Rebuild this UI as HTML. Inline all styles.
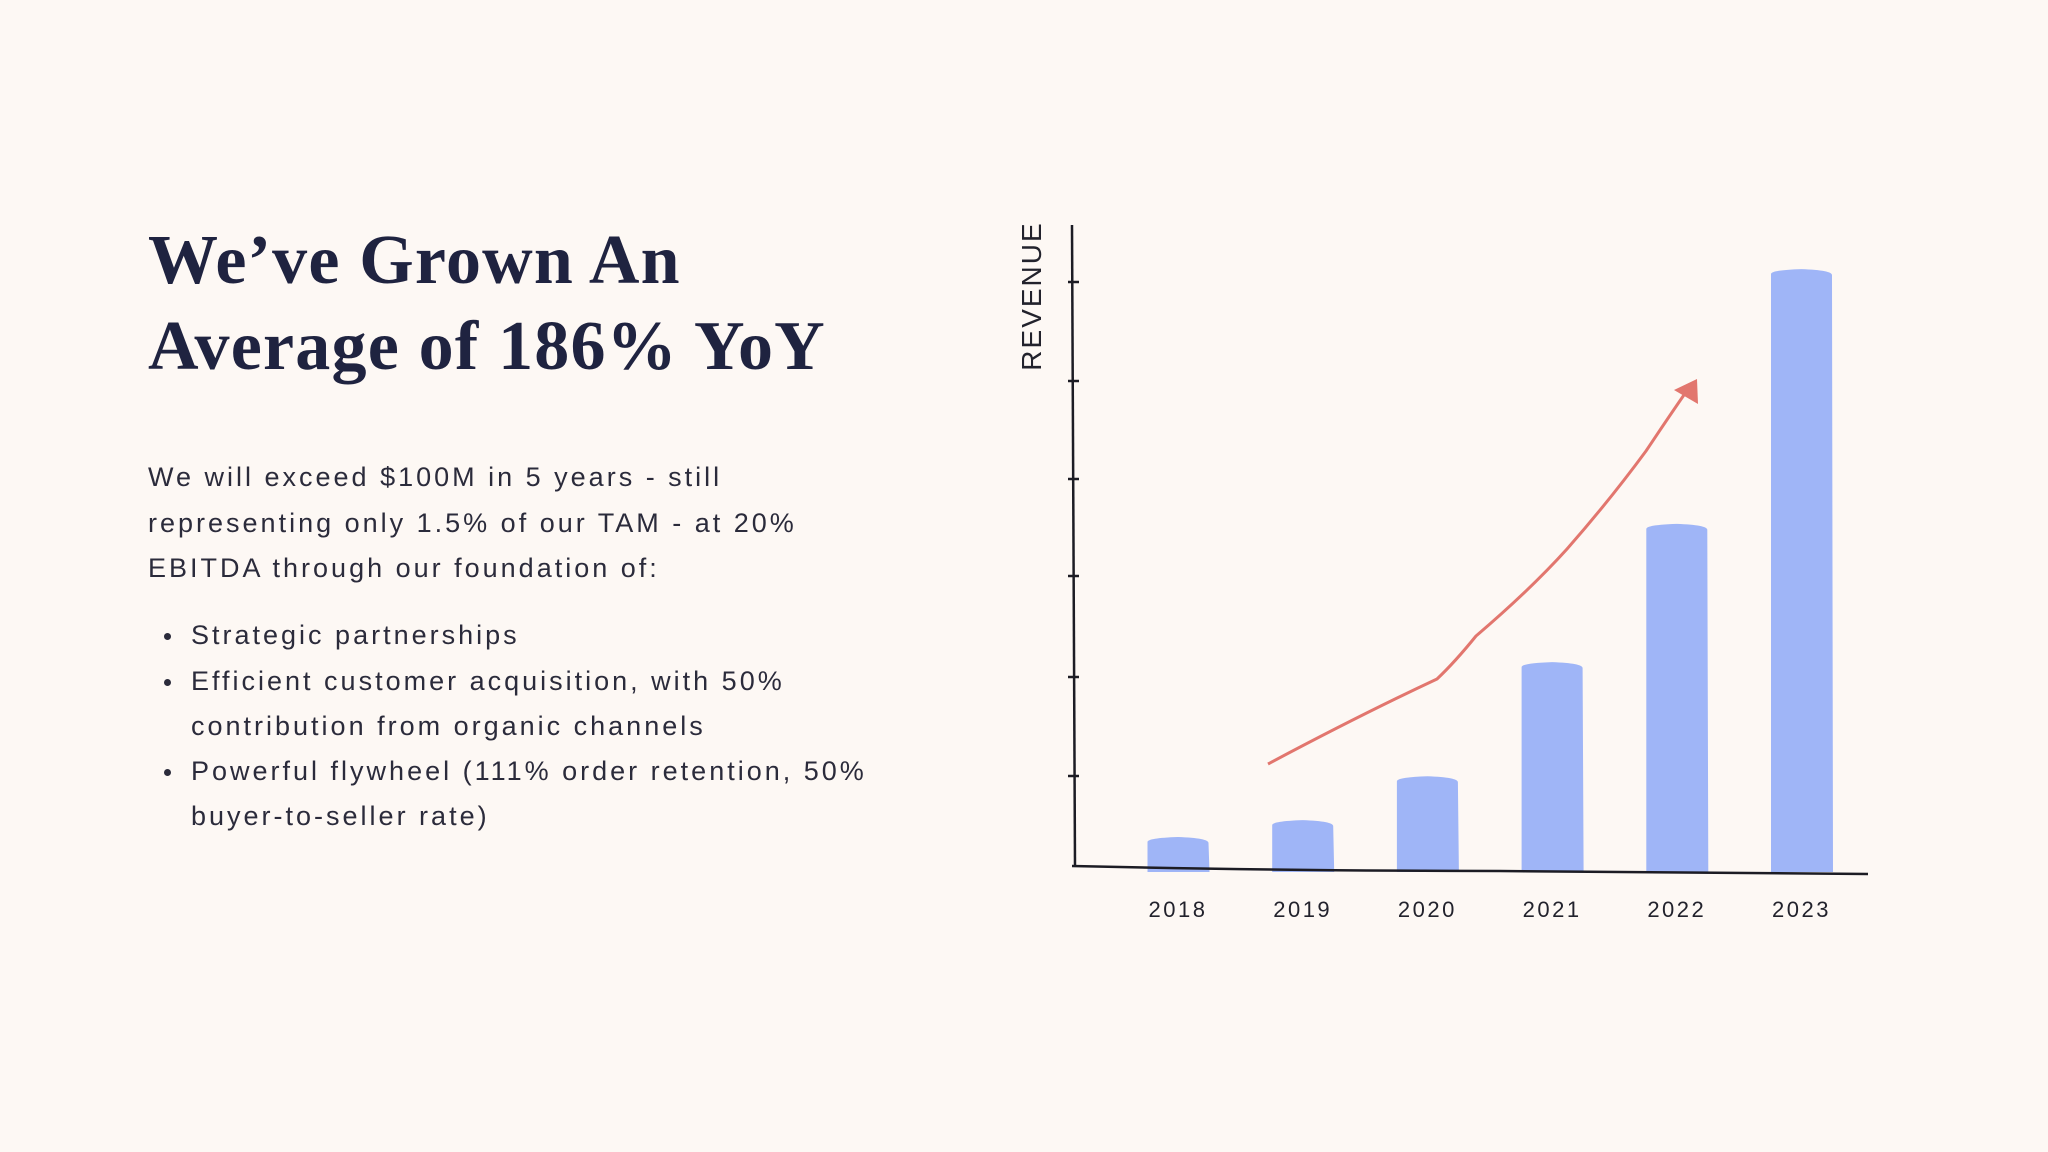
<!DOCTYPE html>
<html><head><meta charset="utf-8">
<style>
html,body{margin:0;padding:0;background:#fdf8f4;}
#page{position:relative;width:2048px;height:1152px;background:#fdf8f4;overflow:hidden;font-family:"Liberation Sans",sans-serif;}
.title{position:absolute;left:148px;font-family:"Liberation Serif",serif;font-weight:bold;font-size:70px;color:#1f2340;white-space:nowrap;letter-spacing:1.2px;}
.body{position:absolute;font-size:27px;color:#2b2b3b;white-space:nowrap;letter-spacing:3px;line-height:31px;}
.dot{position:absolute;left:164px;width:7px;height:7px;border-radius:50%;background:#2b2b3b;}
</style></head>
<body>
<div id="page">
  <div class="title" style="top:221px">We’ve Grown An</div>
  <div class="title" style="top:307px">Average of 186% YoY</div>

  <div class="body" style="left:148px;top:462px">We will exceed $100M in 5 years - still</div>
  <div class="body" style="left:148px;top:508px">representing only 1.5% of our TAM - at 20%</div>
  <div class="body" style="left:148px;top:553px">EBITDA through our foundation of:</div>

  <div class="dot" style="top:633px"></div>
  <div class="body" style="left:191px;top:620px">Strategic partnerships</div>
  <div class="dot" style="top:679px"></div>
  <div class="body" style="left:191px;top:666px">Efficient customer acquisition, with 50%</div>
  <div class="body" style="left:191px;top:711px">contribution from organic channels</div>
  <div class="dot" style="top:769px"></div>
  <div class="body" style="left:191px;top:756px">Powerful flywheel (111% order retention, 50%</div>
  <div class="body" style="left:191px;top:801px">buyer-to-seller rate)</div>

  <svg id="chart" width="2048" height="1152" style="position:absolute;left:0;top:0"></svg>
</div>
<script>
const categories = ["2018","2019","2020","2021","2022","2023"];
const revenue = [5.5, 8.3, 15.6, 34.6, 57.6, 100];
const NS = "http://www.w3.org/2000/svg";
const svg = document.getElementById('chart');
const x0 = 1072, yBase = 871, yTop = 225;
const yMax = 107.5;
function xScale(i){ return 1178 + i * 124.7; }
function yScale(v){ return yBase - v / yMax * (yBase - yTop); }
function mk(tag, attrs){ const e = document.createElementNS(NS, tag); for (const k in attrs) e.setAttribute(k, attrs[k]); svg.appendChild(e); return e; }

// bars
const bw = 61;
revenue.forEach(function(v, i){
  const cx = xScale(i), top = yScale(v), bot = yBase + 1;
  const b = mk('path', {d:`M${cx-bw/2} ${bot} L${cx-bw/2} ${top+4} Q${cx-bw/2} ${top} ${cx} ${top-1} Q${cx+bw/2} ${top} ${cx+bw/2} ${top+5} L${cx+bw/2+1} ${bot} Z`, fill:'#9fb5f7'});
  
  
  const t = mk('text', {x:cx, y:917, 'text-anchor':'middle', 'font-size':22, 'letter-spacing':2.5, fill:'#22222c', 'font-family':'Liberation Sans, sans-serif'});
  t.textContent = categories[i];
  
  
});

// axes
let ya = mk('path', {d:`M${x0} ${yTop} L${x0+3} ${yBase-4}`, stroke:'#1c1c24', 'stroke-width':2.5, fill:'none'});


let xa = mk('path', {d:`M${x0} ${yBase-5} Q1300 ${yBase} 1500 ${yBase} L1868 ${yBase+3}`, stroke:'#1c1c24', 'stroke-width':2.5, fill:'none'});


[282,381,479,576,677,776].forEach(function(ty){
  const t = mk('line', {x1:x0-4, x2:x0+7, y1:ty, y2:ty, stroke:'#1c1c24', 'stroke-width':2.5});
  
  
});

// y title
const yt = mk('text', {x:0, y:0, transform:'translate(1041,296) rotate(-90)', 'text-anchor':'middle', 'font-size':28, 'letter-spacing':2, fill:'#22222c', 'font-family':'Liberation Sans, sans-serif'});
yt.textContent = 'REVENUE';



// trend arrow
const tr = mk('path', {d:'M1268 764 Q1360 715 1437 679 Q1455 662 1476 636 Q1530 590 1567 549 Q1610 500 1646 451 Q1668 418 1686 392', stroke:'#e2766e', 'stroke-width':3, fill:'none'});


const ah = mk('path', {d:'M1697 379 L1674 390 L1698 404 Z', fill:'#e2766e'});


</script>
</body></html>
